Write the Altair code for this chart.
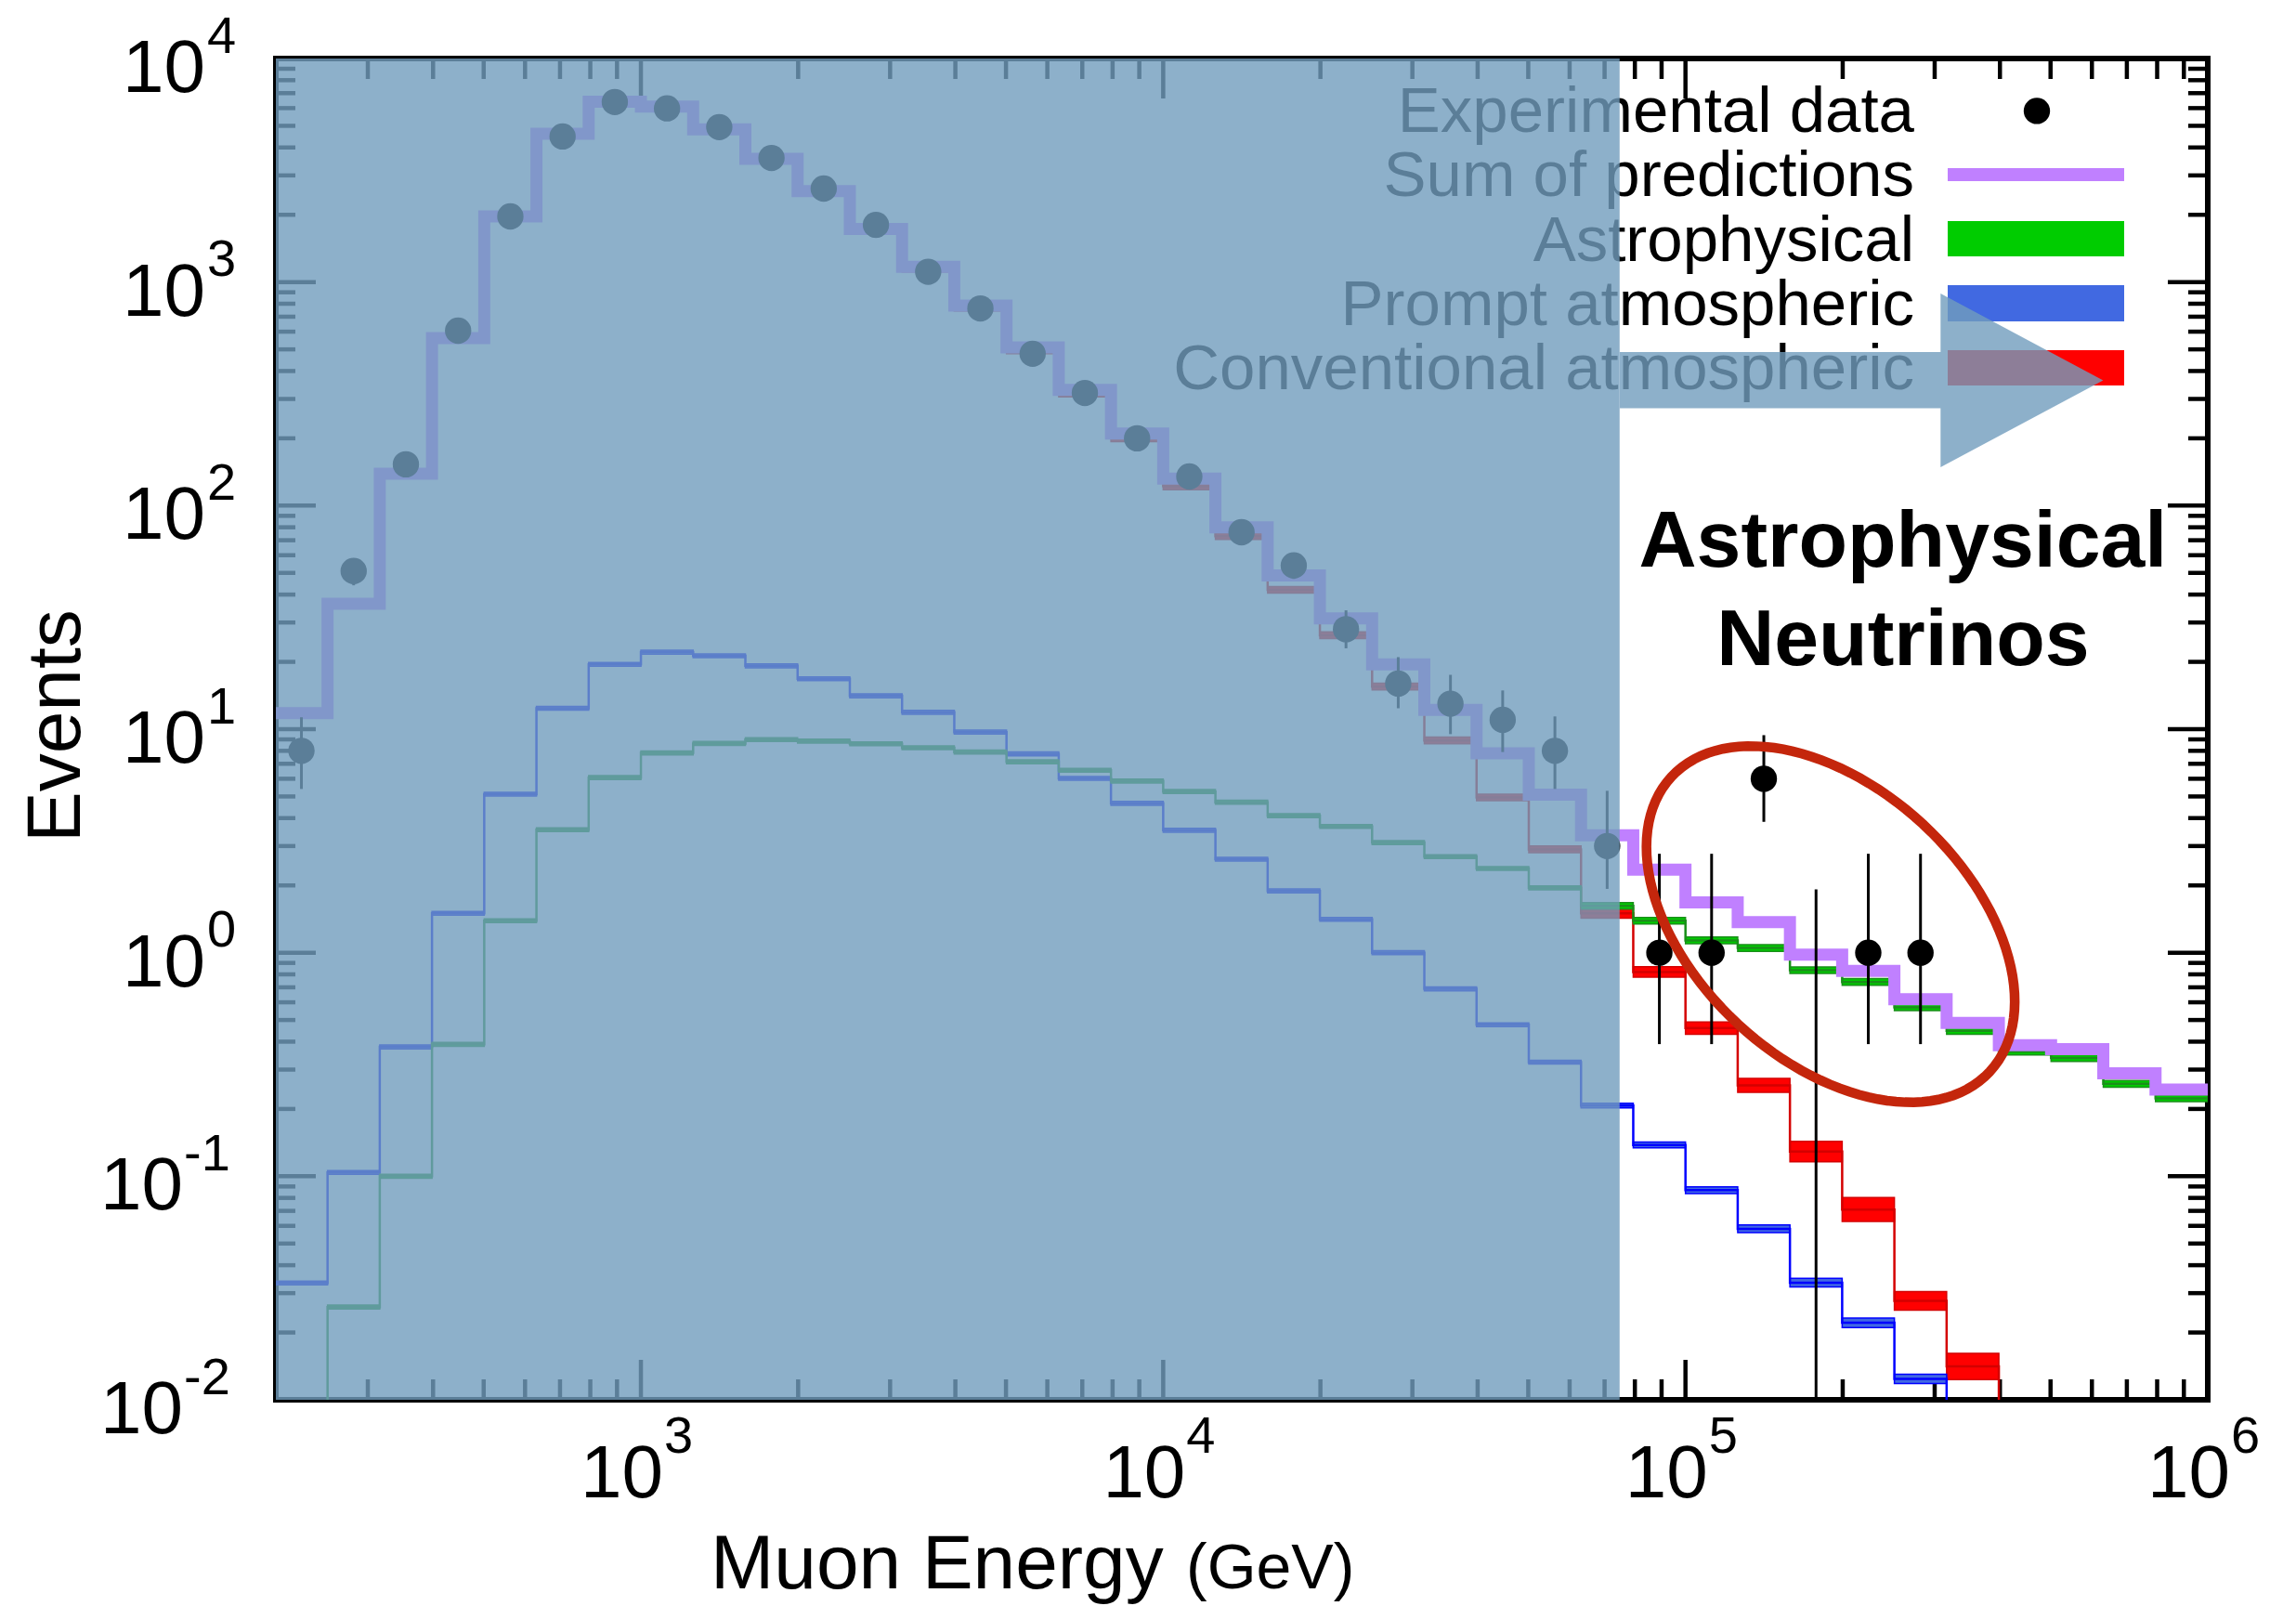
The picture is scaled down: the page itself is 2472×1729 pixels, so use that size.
import altair as alt
import numpy as np
import pandas as pd

W, H = 2080, 1444
FONT = "Liberation Sans"

# ---------------- data ----------------
log_edges = [2.3, 2.4, 2.5, 2.6, 2.7, 2.8, 2.9, 3.0, 3.1, 3.2, 3.3, 3.4, 3.5, 3.6,
             3.7, 3.8, 3.9, 4.0, 4.1, 4.2, 4.3, 4.4, 4.5, 4.6, 4.7, 4.8, 4.9, 5.0,
             5.1, 5.2, 5.3, 5.4, 5.5, 5.6, 5.7, 5.8, 5.9, 6.0]

counts = [8, 51, 153, 606, 1967, 4480, 6390, 5985, 4935, 3590, 2620, 1803, 1112, 762,
          478, 319, 200, 135, 76, 54, 28, 16, 13, 11, 8, 3, 1, 1, 6, 0, 1, 1]
err_lo = [5.4, 44, 141, 582, 1923, 4413, 6310, 5908, 4865, 3530, 2569, 1761, 1079, 734,
          456, 301, 186, 124, 67.5, 47, 23, 12.4, 9.5, 7.9, 5.4, 1.93, 0.39, 0.39, 3.85,
          0.001, 0.39, 0.39]
err_hi = [11.3, 58, 165, 630, 2011, 4547, 6470, 6062, 5005, 3650, 2671, 1845, 1145, 790,
          500, 337, 214, 147, 85, 61, 34, 21, 17.5, 14.9, 11.4, 5.3, 2.77, 2.77, 9.4,
          1.92, 2.77, 2.77]

sum_pred = [11.8, 36.4, 139, 561, 1967, 4605, 6410, 6100, 4820, 3560, 2550, 1726, 1170,
            785, 510, 329, 210, 132, 80, 48.7, 31.3, 19.5, 12.2, 7.8, 5.1, 3.35, 2.35,
            1.68, 1.37, 0.98, 0.83, 0.62, 0.485, 0.386, 0.37, 0.289, 0.244]
conventional = [11.7, 36.2, 138.5, 559, 1960, 4590, 6385, 6070, 4790, 3530, 2525, 1705,
                1150, 768, 495, 317, 200, 122, 73, 42, 26.3, 15.5, 8.9, 4.95, 2.9, 1.5,
                0.82, 0.46, 0.255, 0.129, 0.071, 0.0277, 0.0141, 0.0065, 0.003, 0.0014,
                0.0007]
prompt = [0.0333, 0.104, 0.379, 1.50, 5.12, 12.4, 19.5, 22.1, 21.3, 19.2, 16.8, 14.1,
          11.9, 9.7, 7.75, 6.02, 4.66, 3.53, 2.62, 1.89, 1.41, 1.0, 0.689, 0.476, 0.324,
          0.207, 0.138, 0.0866, 0.0582, 0.0334, 0.0221, 0.0124, 0.0068, 0.0038, 0.002,
          0.001, 0.0005]
astro = [0.006, 0.026, 0.10, 0.389, 1.39, 3.55, 6.07, 7.83, 8.63, 8.98, 8.84, 8.6, 8.26,
         7.9, 7.15, 6.55, 5.86, 5.26, 4.71, 4.10, 3.67, 3.11, 2.69, 2.38, 1.95, 1.62,
         1.39, 1.135, 1.05, 0.835, 0.74, 0.57, 0.447, 0.361, 0.338, 0.259, 0.223]

conv_unc = [0.035] * 25 + [0.05, 0.055, 0.065, 0.075, 0.11, 0.13, 0.10, 0.145, 0.15,
                           0.15, 0.15, 0.15]
prompt_unc = [0.02] * 25 + [0.025, 0.03, 0.035, 0.04, 0.045, 0.05, 0.05, 0.05, 0.05,
                            0.05, 0.05, 0.05]
astro_unc = [0.02] * 25 + [0.035] * 12

x_major = [1e3, 1e4, 1e5, 1e6]
x_minor = [m * 10 ** d for d in (2, 3, 4, 5) for m in range(2, 10)]
y_major = [1e-2, 1e-1, 1e0, 1e1, 1e2, 1e3, 1e4]
y_minor = [m * 10.0 ** d for d in range(-2, 4) for m in range(2, 10)]
x_exps = ["3", "4", "5", "6"]
y_exps = ["-2", "-1", "0", "1", "2", "3", "4"]

shade_range = [200, 74800]
legend_labels = ["Experimental data", "Sum of predictions", "Astrophysical",
                 "Prompt atmospheric", "Conventional atmospheric"]

# ---------------- helpers ----------------
edges = [10 ** e for e in log_edges]
centers = [10 ** ((log_edges[i] + log_edges[i + 1]) / 2) for i in range(len(log_edges) - 1)]

xs = alt.Scale(type="log", domain=[200, 1e6], nice=False)
ys = alt.Scale(type="log", domain=[0.01, 1e4], nice=False)


def X(f):
    return alt.X(f, type="quantitative", scale=xs, axis=None)


def Y(f):
    return alt.Y(f, type="quantitative", scale=ys, axis=None)


def step_df(vals):
    n = len(vals)
    return pd.DataFrame({"E": edges[:n] + [edges[n]], "v": list(vals) + [vals[-1]]})


def band_df(vals, unc):
    return pd.DataFrame({
        "E0": edges[:-1], "E1": edges[1:],
        "lo": [v / (1 + u) for v, u in zip(vals, unc)],
        "hi": [v * (1 + u) for v, u in zip(vals, unc)],
    })


def one():
    return pd.DataFrame({"k": [0]})


layers = []

# ---------------- inward ticks ----------------
def xticks(vals, L, top):
    y0, y1 = (0, L) if top else (H, H - L)
    return alt.Chart(pd.DataFrame({"E": vals})).mark_rule(
        color="black", strokeWidth=4.5).encode(x=X("E"), y=alt.value(y0), y2=alt.value(y1))


def yticks(vals, L, right):
    x0, x1 = (W, W - L) if right else (0, L)
    return alt.Chart(pd.DataFrame({"v": vals})).mark_rule(
        color="black", strokeWidth=4.5).encode(y=Y("v"), x=alt.value(x0), x2=alt.value(x1))


for top in (False, True):
    layers.append(xticks(x_major, 43, top))
    layers.append(xticks(x_minor, 22, top))
for right in (False, True):
    layers.append(yticks(y_major, 43, right))
    layers.append(yticks(y_minor, 21, right))

# ---------------- prediction components ----------------
def component(vals, unc, fill, line):
    band = alt.Chart(band_df(vals, unc)).mark_rect(
        color=fill, stroke=line, strokeWidth=1.5, clip=True).encode(
        x=X("E0"), x2="E1", y=Y("lo"), y2="hi")
    ln = alt.Chart(step_df(vals)).mark_line(
        interpolate="step-after", color=line, strokeWidth=2.5, clip=True).encode(
        x=X("E"), y=Y("v"))
    return [band, ln]


layers += component(conventional, conv_unc, "#FF0000", "#D40000")
layers += component(prompt, prompt_unc, "#4169E1", "#0000FF")
layers += component(astro, astro_unc, "#00CC00", "#1A8F1A")

layers.append(alt.Chart(step_df(sum_pred)).mark_line(
    interpolate="step-after", color="#C080FF", strokeWidth=13, strokeJoin="miter",
    clip=True).encode(x=X("E"), y=Y("v")))

# ---------------- experimental data ----------------
n = len(counts)
exp_df = pd.DataFrame({"E": centers[:n], "c": counts, "lo": err_lo, "hi": err_hi})
layers.append(alt.Chart(exp_df).mark_rule(color="black", strokeWidth=3, clip=True).encode(
    x=X("E"), y=Y("lo"), y2="hi"))
layers.append(alt.Chart(exp_df).transform_filter("datum.c > 0").mark_point(
    filled=True, color="black", size=804, opacity=1, clip=True).encode(x=X("E"), y=Y("c")))

# ---------------- legend ----------------
leg_x = 1764
leg_base = [78.6, 147.5, 218, 287, 356]
for lab, yb in zip(legend_labels, leg_base):
    layers.append(alt.Chart(one()).mark_text(
        text=lab, font=FONT, fontSize=69, align="right", baseline="alphabetic",
        color="black").encode(x=alt.value(leg_x), y=alt.value(yb)))
layers.append(alt.Chart(one()).mark_point(filled=True, color="black", size=804,
                                          opacity=1).encode(x=alt.value(1896), y=alt.value(56.4)))
layers.append(alt.Chart(one()).mark_rule(color="#C080FF", strokeWidth=14).encode(
    x=alt.value(1800), x2=alt.value(1990), y=alt.value(125)))
for (y0, y1), fill in zip([(175, 213), (244, 283), (314, 352)],
                          ["#00CC00", "#4169E1", "#FF0000"]):
    layers.append(alt.Chart(one()).mark_rect(color=fill).encode(
        x=alt.value(1800), x2=alt.value(1990), y=alt.value(y0), y2=alt.value(y1)))

# ---------------- overlay shading + arrow ----------------
OV = "#719DBD"
layers.append(alt.Chart(pd.DataFrame({"E0": [shade_range[0]], "E1": [shade_range[1]]}))
              .mark_rect(color=OV, opacity=0.805).encode(
    x=X("E0"), x2="E1", y=alt.value(0), y2=alt.value(H)))

arrow_path = ("M-0.998,-0.117 L0.328,-0.117 L0.328,-0.359 L1,0 L0.328,0.359 "
              "L0.328,0.115 L-0.998,0.115 Z")
layers.append(alt.Chart(pd.DataFrame({"E": [2.17e5], "v": [363]})).mark_point(
    shape=arrow_path, size=521 ** 2, filled=True, color=OV, opacity=0.805,
    strokeWidth=0).encode(x=X("E"), y=Y("v")))

# ---------------- ellipse + annotation ----------------
th = np.deg2rad(42.8)
t = np.linspace(0, 2 * np.pi, 121)[:-1]
ex, ey = np.cos(t), 0.6276 * np.sin(t)
px = ex * np.cos(th) - ey * np.sin(th)
py = ex * np.sin(th) + ey * np.cos(th)
ell_path = "M" + " L".join(f"{a:.4f},{b:.4f}" for a, b in zip(px, py)) + " Z"
layers.append(alt.Chart(pd.DataFrame({"E": [1.896e5], "v": [1.341]})).mark_point(
    shape=ell_path, size=467.2 ** 2, filled=False, color="#C4260C", strokeWidth=10.5,
    opacity=1).encode(x=X("E"), y=Y("v")))

layers.append(alt.Chart(pd.DataFrame({"E": [2.609e5], "v": [53.4]})).mark_text(
    text=["Astrophysical", "Neutrinos"], font=FONT, fontSize=86, fontWeight="bold",
    align="center", baseline="alphabetic", lineHeight=106.5, color="black").encode(
    x=X("E"), y=Y("v")))

# ---------------- axis labels ----------------
xl = pd.DataFrame({"E": x_major, "e": x_exps})
layers.append(alt.Chart(xl).mark_text(text="10", font=FONT, fontSize=80, align="right",
                                      baseline="alphabetic", dx=24).encode(
    x=X("E"), y=alt.value(H + 105)))
layers.append(alt.Chart(xl).mark_text(font=FONT, fontSize=56, align="left",
                                      baseline="alphabetic", dx=25).encode(
    x=X("E"), y=alt.value(H + 57), text="e:N"))

yl = pd.DataFrame({"v": y_major, "e": y_exps})
for cond, x10, xe in [("datum.v >= 1", -76, -74), ("datum.v < 1", -100, -99)]:
    layers.append(alt.Chart(yl).transform_filter(cond).mark_text(
        text="10", font=FONT, fontSize=80, align="right", baseline="alphabetic",
        dy=36).encode(y=Y("v"), x=alt.value(x10)))
    layers.append(alt.Chart(yl).transform_filter(cond).mark_text(
        font=FONT, fontSize=56, align="left", baseline="alphabetic", dy=-6.5).encode(
        y=Y("v"), x=alt.value(xe), text="e:N"))

layers.append(alt.Chart(one()).mark_text(
    text="Muon Energy", font=FONT, fontSize=82, align="left", baseline="alphabetic").encode(
    x=alt.value(468), y=alt.value(1646.5)))
layers.append(alt.Chart(one()).mark_text(
    text="(GeV)", font=FONT, fontSize=68, align="left", baseline="alphabetic").encode(
    x=alt.value(980), y=alt.value(1646.5)))
layers.append(alt.Chart(one()).mark_text(
    text="Events", font=FONT, fontSize=82, align="center", baseline="alphabetic",
    angle=270).encode(x=alt.value(-211), y=alt.value(718.6)))

chart = alt.layer(*layers).properties(
    width=W, height=H,
    padding={"left": 297, "top": 63, "right": 95, "bottom": 222},
    autosize=alt.AutoSizeParams(type="none"),
    background="white",
).configure_view(stroke="black", strokeWidth=6)

chart.save("out.html", embed_options={"renderer": "svg", "actions": False})
